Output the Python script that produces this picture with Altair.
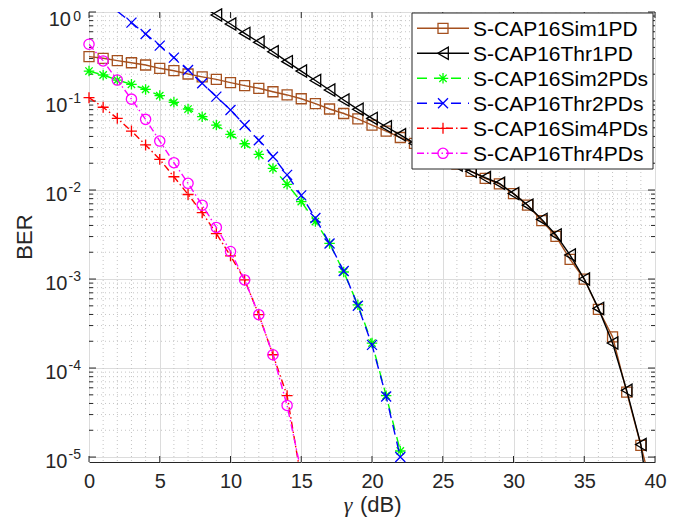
import altair as alt
import pandas as pd

# ---------------- data ----------------
names = ["S-CAP16Sim1PD", "S-CAP16Thr1PD", "S-CAP16Sim2PDs",
         "S-CAP16Thr2PDs", "S-CAP16Sim4PDs", "S-CAP16Thr4PDs"]

x_sim1pd = list(range(0, 41))
ber_sim1pd = [0.315, 0.302, 0.284, 0.269, 0.254, 0.233, 0.219, 0.201, 0.187, 0.175,
              0.161, 0.149, 0.139, 0.127, 0.117, 0.106, 0.0933, 0.0813, 0.0724, 0.0631,
              0.0537, 0.0460, 0.0389, 0.0335, 0.0282, 0.0234, 0.0195, 0.0162, 0.0135, 0.0117,
              0.00912, 0.00676, 0.00452, 0.00302, 0.00166, 0.00100, 4.57e-4, 2.24e-4, 5.37e-5, 1.35e-5,
              3.2e-6]

x_thr1pd = list(range(8, 41))
ber_thr1pd = [1.15, 0.925, 0.733, 0.575, 0.457, 0.358, 0.277, 0.217, 0.170, 0.133,
              0.1026, 0.0807, 0.0638, 0.0514, 0.0417, 0.0335, 0.0275, 0.0229, 0.0191, 0.0162,
              0.0138, 0.0119, 0.00912, 0.00676, 0.00468, 0.00313, 0.00186, 0.00100, 4.68e-4, 1.91e-4,
              5.62e-5, 1.38e-5, 1.0e-6]

x_sim2pds = list(range(0, 23))
ber_sim2pds = [0.217, 0.196, 0.172, 0.154, 0.135, 0.115, 0.0966, 0.0813, 0.0667, 0.0537,
               0.0422, 0.0331, 0.0251, 0.0175, 0.0116, 0.00741, 0.00442, 0.00251, 0.00120, 5.13e-4,
               1.91e-4, 4.9e-5, 1.17e-5]

x_thr2pds = list(range(2, 23))
ber_thr2pds = [1.02, 0.759, 0.566, 0.419, 0.307, 0.223, 0.158, 0.112, 0.0794, 0.0537,
               0.0363, 0.0237, 0.0148, 0.00871, 0.00484, 0.00251, 0.00123, 5.01e-4, 1.82e-4, 4.79e-5,
               1.0e-5]

x_sim4pds = list(range(0, 16))
ber_sim4pds = [0.109, 0.0851, 0.0638, 0.0460, 0.0321, 0.0221, 0.0141, 0.00891, 0.00556, 0.00324,
               0.00182, 9.77e-4, 3.98e-4, 1.41e-4, 4.9e-5, 5.6e-6]

x_thr4pds = list(range(0, 16))
ber_thr4pds = [0.434, 0.282, 0.172, 0.105, 0.0622, 0.0355, 0.0203, 0.0119, 0.00676, 0.00380,
               0.00204, 9.77e-4, 3.98e-4, 1.41e-4, 3.8e-5, 6.8e-6]

x_ticks = [0, 5, 10, 15, 20, 25, 30, 35, 40]
y_exps = [0, -1, -2, -3, -4, -5]

# ---------------- style ----------------
W, H = 566, 450
Y_LO, Y_HI = 8.8e-6, 1.0
FONT = "Liberation Sans"
AX = "#262626"

ASTER = "M-1,0L1,0M0,-1L0,1M-0.7,-0.7L0.7,0.7M-0.7,0.7L0.7,-0.7"
XMARK = "M-1,-1L1,1M-1,1L1,-1"
PLUS = "M-1,0L1,0M0,-1L0,1"
DASH = [10, 7]
DASHDOT = [7, 3, 1.5, 3]

styles = [
    dict(color="#A5501E", shape="square", size=100, dash=None),
    dict(color="#000000", shape="triangle-left", size=150, dash=None),
    dict(color="#00FF00", shape=ASTER, size=110, dash=DASH),
    dict(color="#0000FF", shape=XMARK, size=100, dash=DASH),
    dict(color="#FF0000", shape=PLUS, size=120, dash=DASHDOT),
    dict(color="#FF00FF", shape="circle", size=105, dash=DASHDOT),
]
xs_list = [x_sim1pd, x_thr1pd, x_sim2pds, x_thr2pds, x_sim4pds, x_thr4pds]
ys_list = [ber_sim1pd, ber_thr1pd, ber_sim2pds, ber_thr2pds, ber_sim4pds, ber_thr4pds]

y_minor = [k * 10.0 ** d for d in range(-5, 0) for k in range(2, 10)]
y_major = [10.0 ** e for e in y_exps]
x_minor = [i for i in range(41) if i % 5]

xscale = alt.Scale(domain=[0, 40], nice=False, zero=False)
yscale = alt.Scale(type="log", domain=[Y_LO, Y_HI], nice=False)
xaxis = alt.Axis(values=x_ticks, grid=True, gridColor="#dcdcdc", gridWidth=1,
                 ticks=False, domain=False, labelFontSize=20, labelFont=FONT,
                 labelColor=AX, labelPadding=9, labelFlush=False,
                 labelOverlap=False, title=None)
yaxis = alt.Axis(values=y_major, grid=True, gridColor="#dcdcdc", gridWidth=1,
                 ticks=False, domain=False, labels=False, title=None)


def X(f):
    return alt.X(f, scale=xscale, axis=xaxis)


def Y(f):
    return alt.Y(f, scale=yscale, axis=yaxis)


df_xmaj = pd.DataFrame({"x": x_ticks})
df_xmin = pd.DataFrame({"x": x_minor})
df_ymaj = pd.DataFrame({"v": y_major})
df_ymin = pd.DataFrame({"v": y_minor})

layers = []

# inner ticks (first layers carry the shared axes)
layers.append(alt.Chart(df_xmaj).mark_rule(color=AX, strokeWidth=1).encode(
    x=X("x:Q"), y=alt.value(H), y2=alt.value(H - 6)))
layers.append(alt.Chart(df_ymaj).mark_rule(color=AX, strokeWidth=1).encode(
    y=Y("v:Q"), x=alt.value(0), x2=alt.value(7)))

# minor dotted grid
layers.append(alt.Chart(df_xmin).mark_rule(color="#c4c4c4", strokeWidth=1, strokeDash=[1, 3]).encode(
    x=X("x:Q"), y=alt.value(0), y2=alt.value(H)))
layers.append(alt.Chart(df_ymin).mark_rule(color="#c4c4c4", strokeWidth=1, strokeDash=[1, 3]).encode(
    y=Y("v:Q"), x=alt.value(0), x2=alt.value(W)))

layers.append(alt.Chart(df_xmaj).mark_rule(color=AX, strokeWidth=1).encode(
    x=X("x:Q"), y=alt.value(0), y2=alt.value(6)))
layers.append(alt.Chart(df_ymaj).mark_rule(color=AX, strokeWidth=1).encode(
    y=Y("v:Q"), x=alt.value(W), x2=alt.value(W - 7)))
layers.append(alt.Chart(df_ymin).mark_rule(color=AX, strokeWidth=1).encode(
    y=Y("v:Q"), x=alt.value(0), x2=alt.value(4)))
layers.append(alt.Chart(df_ymin).mark_rule(color=AX, strokeWidth=1).encode(
    y=Y("v:Q"), x=alt.value(W), x2=alt.value(W - 4)))

# ---------------- series ----------------
for name, xv, yv, st in zip(names, xs_list, ys_list, styles):
    df = pd.DataFrame({"x": xv, "ber": yv})
    lkw = dict(color=st["color"], strokeWidth=1.4, clip=True)
    if st["dash"]:
        lkw["strokeDash"] = st["dash"]
    layers.append(alt.Chart(df).mark_line(**lkw).encode(x=X("x:Q"), y=Y("ber:Q")))
    layers.append(alt.Chart(df).transform_filter(
        f"datum.ber >= {Y_LO} && datum.ber <= {Y_HI}").mark_point(
        shape=st["shape"], size=st["size"], filled=False, color=st["color"],
        strokeWidth=1.3, opacity=1).encode(x=X("x:Q"), y=Y("ber:Q")))

# ---------------- y tick labels 10^e ----------------
df_lab = pd.DataFrame({"e": y_exps, "v": y_major, "etxt": [str(e) for e in y_exps]})
layers.append(alt.Chart(df_lab).transform_filter("datum.e == 0").mark_text(
    align="right", baseline="alphabetic", fontSize=20, font=FONT, color=AX, dy=14).encode(
    x=alt.value(-18), y=Y("v:Q"), text=alt.value("10")))
layers.append(alt.Chart(df_lab).transform_filter("datum.e == 0").mark_text(
    align="right", baseline="alphabetic", fontSize=14, font=FONT, color=AX, dy=9).encode(
    x=alt.value(-8), y=Y("v:Q"), text=alt.Text("etxt:N")))
layers.append(alt.Chart(df_lab).transform_filter("datum.e < 0").mark_text(
    align="right", baseline="alphabetic", fontSize=20, font=FONT, color=AX, dy=11).encode(
    x=alt.value(-21.5), y=Y("v:Q"), text=alt.value("10")))
layers.append(alt.Chart(df_lab).transform_filter("datum.e < 0").mark_text(
    align="right", baseline="alphabetic", fontSize=14, font=FONT, color=AX, dy=1.5).encode(
    x=alt.value(-8), y=Y("v:Q"), text=alt.Text("etxt:N")))

# ---------------- axis titles ----------------
one = pd.DataFrame({"k": [0]})
layers.append(alt.Chart(one).mark_text(
    angle=270, align="center", baseline="alphabetic", fontSize=22, font=FONT, color=AX).encode(
    x=alt.value(-57), y=alt.value(H / 2), text=alt.value("BER")))
layers.append(alt.Chart(one).mark_text(
    align="center", baseline="alphabetic", fontSize=22, font="Liberation Serif",
    fontStyle="italic", color=AX).encode(
    x=alt.value(259), y=alt.value(H + 50), text=alt.value("γ")))
layers.append(alt.Chart(one).mark_text(
    align="left", baseline="alphabetic", fontSize=22, font=FONT, color=AX).encode(
    x=alt.value(271), y=alt.value(H + 50), text=alt.value("(dB)")))

# ---------------- legend ----------------
layers.append(alt.Chart(one).mark_rect(fill="white", stroke=AX, strokeWidth=1).encode(
    x=alt.value(323), x2=alt.value(564), y=alt.value(1), y2=alt.value(157)))
for i, (name, st) in enumerate(zip(names, styles)):
    yc = 16.3 + 25 * i
    ldf = pd.DataFrame({"label": [name]})
    rkw = dict(color=st["color"], strokeWidth=1.4)
    if st["dash"]:
        rkw["strokeDash"] = st["dash"]
    layers.append(alt.Chart(ldf).mark_rule(**rkw).encode(
        x=alt.value(328), x2=alt.value(380), y=alt.value(yc)))
    layers.append(alt.Chart(ldf).mark_point(
        shape=st["shape"], size=st["size"], filled=False, color=st["color"],
        strokeWidth=1.3, opacity=1).encode(x=alt.value(354), y=alt.value(yc)))
    layers.append(alt.Chart(ldf).mark_text(
        align="left", baseline="alphabetic", fontSize=21, font=FONT, color="#000000").encode(
        x=alt.value(384), y=alt.value(yc + 7.5), text=alt.Text("label:N")))

chart = alt.layer(*layers).properties(
    width=W, height=H,
    autosize=alt.AutoSizeParams(type="none"),
    padding={"left": 81, "top": 4, "right": 20, "bottom": 55},
).configure_view(stroke=AX, strokeWidth=1)

chart.save("out.html", embed_options={"renderer": "svg", "actions": False})
